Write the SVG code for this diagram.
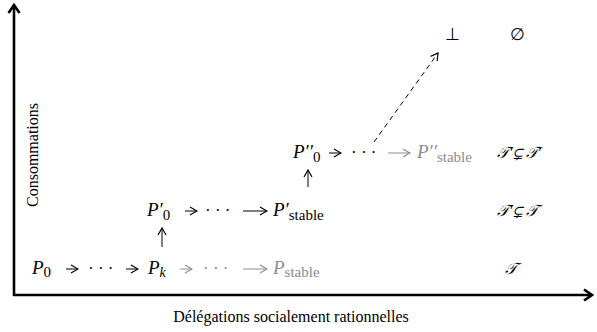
<svg xmlns="http://www.w3.org/2000/svg" width="597" height="332" viewBox="0 0 597 332" font-family="Liberation Serif, serif">
<style>
text{fill:#000}
.m{font-size:19px;font-style:italic}
.s{font-size:15px;font-style:normal}
.si{font-size:14px;font-style:italic}
.o{font-size:17px}
.t{font-size:16px;font-style:italic}
.g{fill:#8c8c8c}
.ax{font-size:16px}
.axis{stroke:#000;stroke-width:2.6;fill:none}
.c{stroke:#000;stroke-width:1;fill:none}
.gc{stroke:#8c8c8c;stroke-width:1;fill:none}
</style>
<defs>
<marker id="ah" viewBox="0 0 10 10" refX="9" refY="5" markerWidth="10" markerHeight="10" markerUnits="userSpaceOnUse" orient="auto">
<path d="M2,1 L9,5 L2,9" fill="none" stroke="#000" stroke-width="1.2"/>
</marker>
<marker id="gah" viewBox="0 0 10 10" refX="9" refY="5" markerWidth="10" markerHeight="10" markerUnits="userSpaceOnUse" orient="auto">
<path d="M2,1 L9,5 L2,9" fill="none" stroke="#8c8c8c" stroke-width="1.2"/>
</marker>
<marker id="bah" viewBox="0 0 14 14" refX="12" refY="7" markerWidth="14" markerHeight="14" markerUnits="userSpaceOnUse" orient="auto">
<path d="M4,1.5 L12,7 L4,12.5" fill="none" stroke="#000" stroke-width="2.6"/>
</marker>
</defs>
<g id="axes">
<line class="axis" x1="14" y1="296" x2="14" y2="5" marker-end="url(#bah)"/>
<line class="axis" x1="13" y1="295" x2="592" y2="295" marker-end="url(#bah)"/>
<text class="ax" x="291" y="322" text-anchor="middle">Délégations socialement rationnelles</text>
<text class="ax" transform="translate(38,155) rotate(-90)" text-anchor="middle">Consommations</text>
</g>
<g id="connectors">
<line class="c" x1="66" y1="269" x2="78" y2="269" marker-end="url(#ah)"/>
<line class="c" x1="126" y1="269" x2="138" y2="269" marker-end="url(#ah)"/>
<line class="gc" x1="180" y1="269" x2="192" y2="269" marker-end="url(#gah)"/>
<line class="gc" x1="243" y1="269" x2="267" y2="269" marker-end="url(#gah)"/>
<line class="c" x1="185" y1="211" x2="197" y2="211" marker-end="url(#ah)"/>
<line class="c" x1="243" y1="211" x2="267" y2="211" marker-end="url(#ah)"/>
<line class="c" x1="329" y1="153" x2="341" y2="153" marker-end="url(#ah)"/>
<line class="gc" x1="388" y1="153" x2="410" y2="153" marker-end="url(#gah)"/>
<line class="c" x1="162" y1="247" x2="162" y2="228" marker-end="url(#ah)"/>
<line class="c" x1="308" y1="187" x2="308" y2="170" marker-end="url(#ah)"/>
<line class="c" x1="374" y1="142" x2="438" y2="53" stroke-dasharray="5,4" marker-end="url(#ah)"/>
</g>
<g id="row1">
<text class="m" x="32" y="274">P<tspan class="s" dy="3">0</tspan></text>
<text class="o" x="88" y="274">· · ·</text>
<text class="m" x="148" y="274">P<tspan class="si" dy="3">k</tspan></text>
<text class="o g" x="203" y="274">· · ·</text>
<text class="m g" x="273" y="274">P<tspan class="s" dy="3">stable</tspan></text>
<text class="t" x="505" y="274">𝒯</text>
</g>
<g id="row2">
<text class="m" x="147" y="216">P′<tspan class="s" dy="4">0</tspan></text>
<text class="o" x="205" y="216">· · ·</text>
<text class="m" x="273" y="216">P′<tspan class="s" dy="4">stable</tspan></text>
<text class="t" x="497" y="216">𝒯′⊊ 𝒯</text>
</g>
<g id="row3">
<text class="m" x="293" y="158">P′′<tspan class="s" dy="4">0</tspan></text>
<text class="o" x="351" y="158">· · ·</text>
<text class="m g" x="417" y="158">P′′<tspan class="s" dy="4">stable</tspan></text>
<text class="t" x="497" y="158">𝒯′⊊ 𝒯′</text>
</g>
<g id="top">
<text class="o" x="445" y="40">⊥</text>
<text class="o" x="510" y="40">∅</text>
</g>
</svg>
